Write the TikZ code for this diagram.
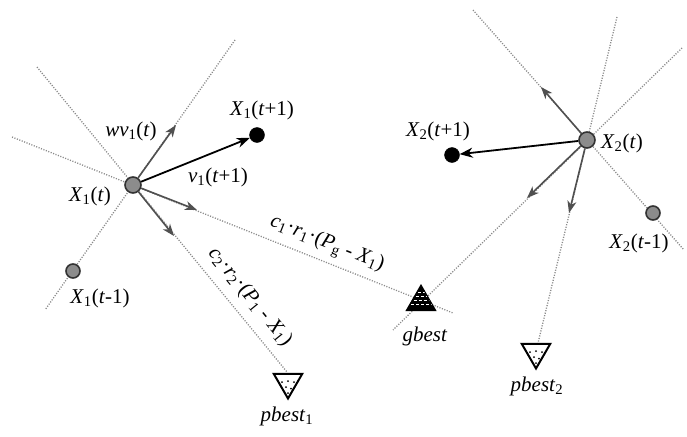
\documentclass[tikz,border=0pt]{standalone}
\usepackage{fontspec}
\setmainfont{Liberation Serif}
\usetikzlibrary{arrows.meta,shapes.geometric}
\definecolor{dotgrey}{HTML}{8A8A8A}
\definecolor{arrgrey}{HTML}{505050}
\definecolor{ballgrey}{HTML}{8C8C8C}
\newcommand{\vi}[2]{\textit{#1}\textsubscript{#2}}
\tikzset{
  dotline/.style={draw=dotgrey,line width=1.3pt,dash pattern=on 1.1pt off 1.5pt},
  greyarrow/.style={draw=arrgrey,line width=1.6pt,-{Stealth[length=12pt,width=9pt,inset=3.5pt]}},
  blackarrow/.style={draw=black,line width=1.8pt,-{Stealth[length=13pt,width=10pt,inset=4pt]}},
  oldpos/.style={circle,fill=ballgrey,draw=black!80,line width=1.6pt,inner sep=0pt,minimum size=14pt},
  newpos/.style={circle,fill=black,draw=black,inner sep=0pt,minimum size=15pt},
  lbl/.style={font=\fontsize{21}{24}\selectfont,inner sep=1pt},
  gbesttri/.style={regular polygon,regular polygon sides=3,minimum size=34pt,inner sep=0pt,
    fill=black,draw=black,line width=1pt,
    path picture={
      \foreach \yy/\ph in {-7/0,-3/2.5,1/0.5,5/3}
        \draw[white,line width=1.2pt,dash pattern=on 3pt off 2pt,dash phase=\ph pt]
          ([xshift=-20pt,yshift=\yy pt]path picture bounding box.center) -- ++(40pt,0pt);
    }},
  pbesttri/.style={regular polygon,regular polygon sides=3,shape border rotate=180,minimum size=33pt,inner sep=0pt,
    fill=white,draw=black,line width=2pt,
    path picture={
      \foreach \dx/\dy in {-6/4,0/5,6/4,-2/-1,3/-2.5,0/-7}
        \fill[black] ([xshift=\dx pt,yshift=\dy pt]path picture bounding box.center) circle (1.1pt);
    }},
}
\begin{document}
\begin{tikzpicture}[x=1pt,y=-1pt]
\useasboundingbox (0,0) rectangle (687,436);
% line end coordinates
\coordinate (A1) at (235,40);  \coordinate (A2) at (45,310);
\coordinate (B1) at (37,67);   \coordinate (B2) at (287,372);
\coordinate (C1) at (12,137);  \coordinate (C2) at (453,313);
\coordinate (D1) at (473,10);  \coordinate (D2) at (684,250);
\coordinate (E1) at (617,17);  \coordinate (E2) at (538,343);
\coordinate (F1) at (682,48);  \coordinate (F2) at (393,330);
% dotted lines
\draw[dotline] (A1) -- (A2);
\draw[dotline] (B1) -- (B2);
\draw[dotline] (C1) -- (C2);
\draw[dotline] (D1) -- (D2);
\draw[dotline] (E1) -- (E2);
\draw[dotline] (F1) -- (F2);
% arrow tips
\coordinate (w1) at (176,125);
\coordinate (g1) at (197,210);
\coordinate (p1) at (174,236);
\coordinate (w2) at (541,87);
\coordinate (g2) at (527,198);
\coordinate (p2) at (569,213);
% nodes
\node[oldpos,minimum size=16pt] (x1) at (133,185) {};
\node[newpos] (x1n) at (257,135) {};
\node[oldpos] (x1o) at (73,271) {};
\node[oldpos,minimum size=16pt] (x2) at (587,140) {};
\node[newpos] (x2n) at (452,155) {};
\node[oldpos] (x2o) at (653,213) {};
\node[gbesttri] (gb) at (421,302) {};
\node[pbesttri] (pb1) at (288,382) {};
\node[pbesttri] (pb2) at (536,352) {};
% arrows
\draw[greyarrow] (x1) -- (w1);
\draw[greyarrow] (x1) -- (g1);
\draw[greyarrow] (x1) -- (p1);
\draw[blackarrow] (x1) -- (x1n);
\draw[greyarrow] (x2) -- (w2);
\draw[greyarrow] (x2) -- (g2);
\draw[greyarrow] (x2) -- (p2);
\draw[blackarrow] (x2) -- (x2n);
% labels
\node[lbl] (lw) at (131,131) {\textit{wv}\textsubscript{1}(\textit{t})};
\node[lbl] (lv) at (218,177) {\vi{v}{1}(\textit{t}+1)};
\node[lbl] (lx1) at (90,196) {\vi{X}{1}(\textit{t})};
\node[lbl] (lx1n) at (262,110) {\vi{X}{1}(\textit{t}+1)};
\node[lbl] (lx1o) at (100,298) {\vi{X}{1}(\textit{t}-1)};
\node[lbl] (lx2n) at (438,131) {\vi{X}{2}(\textit{t}+1)};
\node[lbl] (lx2) at (622,143) {\vi{X}{2}(\textit{t})};
\node[lbl] (lx2o) at (639,243) {\vi{X}{2}(\textit{t}-1)};
\node[lbl] (lgb) at (425,336) {\textit{gbest}};
\node[lbl] (lpb1) at (287,416) {\vi{pbest}{1}};
\node[lbl] (lpb2) at (537,386) {\vi{pbest}{2}};
\node[lbl,rotate=-21.6] (lc1) at (327,244) {\vi{c}{1}·\vi{r}{1}·(\vi{P}{g} - \vi{X}{1})};
\node[lbl,rotate=-50.8] (lc2) at (250,297) {\vi{c}{2}·\vi{r}{2}·(\vi{P}{1} - \vi{X}{1})};
\end{tikzpicture}
\end{document}
